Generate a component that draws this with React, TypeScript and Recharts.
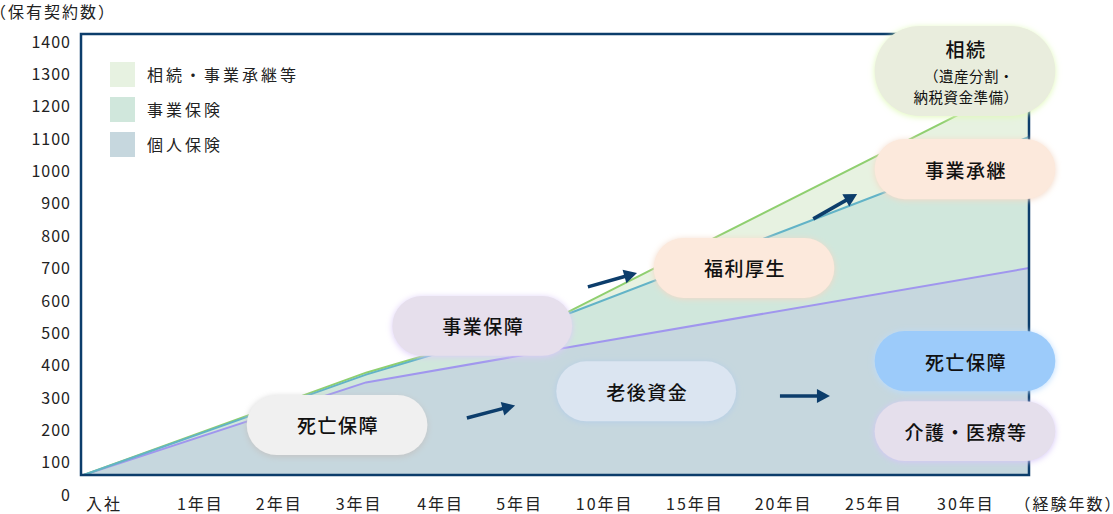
import React from 'react';
import {
  ComposedChart,
  Area,
  XAxis,
  YAxis,
  ReferenceArea,
  ReferenceLine,
  Legend,
  Customized,
} from 'recharts';

const FONT = '"Noto Sans CJK JP", "Noto Sans", sans-serif';

// ---- data ----
// x positions of the data points, in "stage" units (0 = 入社)
const pointX = [-0.22, 3.0, 5.21, 10.56];
const kojinHoken = [62, 348, 452, 701]; // 個人保険
const jigyoHoken = [0, 24, 98, 405]; // 事業保険 (stacked)
const sozokuJigyo = [0, 6, 3, 179]; // 相続・事業承継等 (stacked)

const xTickLabels = ['入社', '1年目', '2年目', '3年目', '4年目', '5年目', '10年目', '15年目', '20年目', '25年目', '30年目', '（経験年数）'];
const xTickPos = [0, 1.1, 2.0, 2.91, 3.84, 4.74, 5.71, 6.74, 7.75, 8.78, 9.83, 11.0];
const yTicks = [0, 100, 200, 300, 400, 500, 600, 700, 800, 900, 1000, 1100, 1200, 1300, 1400];

const seriesNames = ['個人保険', '事業保険', '相続・事業承継等'];
const seriesFill = ['#c6d7de', '#d0e7dc', '#e7f2e1'];
const seriesStroke = ['#a096ee', '#62b3c7', '#8fcf6f'];

const data = pointX.map((x, i) => ({
  x,
  [seriesNames[0]]: kojinHoken[i],
  [seriesNames[1]]: jigyoHoken[i],
  [seriesNames[2]]: sozokuJigyo[i],
}));

// cumulative top of series k (for the outline strokes)
const cumulativeKey = (k: number) => (d: any) => {
  let s = 0;
  for (let j = 0; j <= k; j++) s += d[seriesNames[j]];
  return s;
};
const lineOrder = [0, 2, 1]; // draw teal outline last so it sits on top where lines meet

// ---- annotations (bubbles & arrows), placed in axis units ----
const bubbles = [
  { lines: ['死亡保障'], x: [1.64, 3.7], y: [124, 309], fill: '#f0f0f0', glow: '#c4c4c4', dy: 2 },
  { lines: ['事業保障'], x: [3.3, 5.35], y: [430, 615], fill: '#e6dfec', glow: '#dccbf8', dy: 1 },
  { lines: ['老後資金'], x: [5.17, 7.22], y: [228, 413], fill: '#dbe5f1', glow: '#b4cde8', dy: 1 },
  { lines: ['福利厚生'], x: [6.28, 8.34], y: [609, 794], fill: '#fce9dc', glow: '#f3d8c6', dy: 1 },
  { lines: ['事業承継'], x: [8.8, 10.86], y: [914, 1100], fill: '#fce9dc', glow: '#f3d8c6', dy: 1 },
  { lines: ['相続', '（遺産分割・', '納税資金準備）'], x: [8.8, 10.86], y: [1171, 1449], fill: '#e9eddd', glow: '#e0f9b8', dy: 1 },
  { lines: ['死亡保障'], x: [8.8, 10.86], y: [321, 507], fill: '#9ccbfa', glow: '#b9dcff', dy: 1 },
  { lines: ['介護・医療等'], x: [8.8, 10.86], y: [105, 290], fill: '#e5dfec', glow: '#d6c6f8', dy: 1 },
];

const arrows = [
  { from: [4.15, 238], to: [4.7, 277] },
  { from: [7.72, 306], to: [8.29, 306] },
  { from: [5.53, 643], to: [6.09, 686] },
  { from: [8.1, 853], to: [8.6, 930] },
];

const NAVY = '#0c3d6b';

function makeBubbleShape(b: any, i: number) {
  return (props: any) => {
    const { x, y, width, height } = props;
    const cx = x + width / 2;
    const cy = y + height / 2;
    const id = `bubbleGlow${i}`;
    const multi = b.lines.length > 1;
    return (
      <g>
        <defs>
          <filter id={id} x="-20%" y="-40%" width="140%" height="180%">
            <feDropShadow dx="0" dy={b.dy} stdDeviation="3" floodColor={b.glow} floodOpacity="1" />
          </filter>
        </defs>
        <rect x={x} y={y} width={width} height={height} rx={height / 2} ry={height / 2} fill={b.fill} filter={`url(#${id})`} />
        {!multi && (
          <text x={cx + 1} y={cy} textAnchor="middle" dominantBaseline="central" fontFamily={FONT} fontSize={19} fontWeight={500} letterSpacing={1.5} fill="#111">
            {b.lines[0]}
          </text>
        )}
        {multi && (
          <g fontFamily={FONT} fill="#111">
            <text x={cx + 1} y={cy - 22} textAnchor="middle" dominantBaseline="central" fontSize={19} fontWeight={500} letterSpacing={1.5}>
              {b.lines[0]}
            </text>
            <text x={cx + 4} y={cy + 4.5} textAnchor="middle" dominantBaseline="central" fontSize={14.5} letterSpacing={0.5}>
              {b.lines[1]}
            </text>
            <text x={cx + 1} y={cy + 26} textAnchor="middle" dominantBaseline="central" fontSize={14.5} letterSpacing={0.5}>
              {b.lines[2]}
            </text>
          </g>
        )}
      </g>
    );
  };
}

const ArrowShape = (props: any) => {
  const { x1, y1, x2, y2 } = props;
  const dx = x2 - x1;
  const dy = y2 - y1;
  const len = Math.sqrt(dx * dx + dy * dy) || 1;
  const ux = dx / len;
  const uy = dy / len;
  const headL = 13;
  const headW = 7;
  const bx = x2 - ux * headL;
  const by = y2 - uy * headL;
  const px = -uy * headW;
  const py = ux * headW;
  return (
    <g>
      <line x1={x1} y1={y1} x2={bx + ux} y2={by + uy} stroke={NAVY} strokeWidth={3.5} />
      <polygon points={`${x2},${y2} ${bx + px},${by + py} ${bx - px},${by - py}`} fill={NAVY} />
    </g>
  );
};

const XTick = (props: any) => {
  const { x, y, payload } = props;
  const idx = xTickPos.indexOf(payload.value);
  return (
    <text x={x + 1} y={y} dy={35} textAnchor="middle" fontFamily={FONT} fontSize={16} letterSpacing={2} fill="#222">
      {idx >= 0 ? xTickLabels[idx] : ''}
    </text>
  );
};

const YTick = (props: any) => {
  const { x, y, payload } = props;
  return (
    <text x={x} y={y} dy="0.36em" textAnchor="end" fontFamily={FONT} fontSize={16} letterSpacing={1} fill="#222">
      {payload.value}
    </text>
  );
};

const renderLegend = () => (
  <div style={{ fontFamily: FONT }}>
    {[...seriesNames].reverse().map((name) => {
      const i = seriesNames.indexOf(name);
      return (
        <div key={name} style={{ display: 'flex', alignItems: 'center', height: 25, marginBottom: 10 }}>
          <div style={{ width: 25, height: 25, background: seriesFill[i] }} />
          <span style={{ marginLeft: 12, fontSize: 16, letterSpacing: 3, color: '#222', lineHeight: '25px' }}>{name}</span>
        </div>
      );
    })}
  </div>
);

const AxisTitle = () => (
  <text x={-10} y={17.5} fontFamily={FONT} fontSize={16} letterSpacing={2} fill="#222">
    （保有契約数）
  </text>
);

export default function App() {
  return (
    <div style={{ position: 'absolute', left: 0, top: 0, width: 1113, height: 514, background: '#fff' }}>
      <ComposedChart width={1113} height={514} data={data} margin={{ top: 34, right: 84, bottom: 0, left: 0 }}>
        <XAxis
          dataKey="x"
          type="number"
          domain={[-0.25, 10.56]}
          allowDataOverflow
          ticks={xTickPos}
          interval={0}
          axisLine={false}
          tickLine={false}
          tickSize={0}
          tickMargin={0}
          height={39}
          tick={<XTick />}
        />
        <YAxis
          type="number"
          domain={[62, 1424]}
          allowDataOverflow
          ticks={yTicks}
          interval={0}
          axisLine={false}
          tickLine={false}
          tickSize={0}
          tickMargin={10}
          width={81}
          tick={<YTick />}
        />
        {seriesNames.map((name, i) => (
          <Area
            key={name}
            type="linear"
            dataKey={name}
            stackId="fill"
            fill={seriesFill[i]}
            fillOpacity={1}
            stroke="none"
            dot={false}
            activeDot={false}
            isAnimationActive={false}
            legendType="square"
          />
        ))}
        {lineOrder.map((k) => (
          <Area
            key={`line-${k}`}
            type="linear"
            dataKey={cumulativeKey(k)}
            name={`${seriesNames[k]}-outline`}
            fill="none"
            fillOpacity={0}
            stroke={seriesStroke[k]}
            strokeWidth={2}
            dot={false}
            activeDot={false}
            isAnimationActive={false}
            legendType="none"
          />
        ))}
        <ReferenceArea
          x1={-0.25}
          x2={10.56}
          y1={62}
          y2={1424}
          fill="none"
          fillOpacity={0}
          stroke={NAVY}
          strokeWidth={2.5}
          ifOverflow="visible"
          zIndex={450}
        />
        {bubbles.map((b, i) => (
          <ReferenceArea
            key={`b${i}`}
            x1={b.x[0]}
            x2={b.x[1]}
            y1={b.y[0]}
            y2={b.y[1]}
            ifOverflow="visible"
            zIndex={1500}
            shape={makeBubbleShape(b, i)}
          />
        ))}
        {arrows.map((a, i) => (
          <ReferenceLine
            key={`a${i}`}
            segment={[
              { x: a.from[0], y: a.from[1] },
              { x: a.to[0], y: a.to[1] },
            ]}
            ifOverflow="visible"
            zIndex={1600}
            shape={ArrowShape}
          />
        ))}
        <Legend
          layout="vertical"
          align="center"
          verticalAlign="middle"
          wrapperStyle={{ left: 110, top: 62, width: 'auto', height: 'auto' }}
          content={renderLegend}
        />
        <Customized component={AxisTitle} />
      </ComposedChart>
    </div>
  );
}
